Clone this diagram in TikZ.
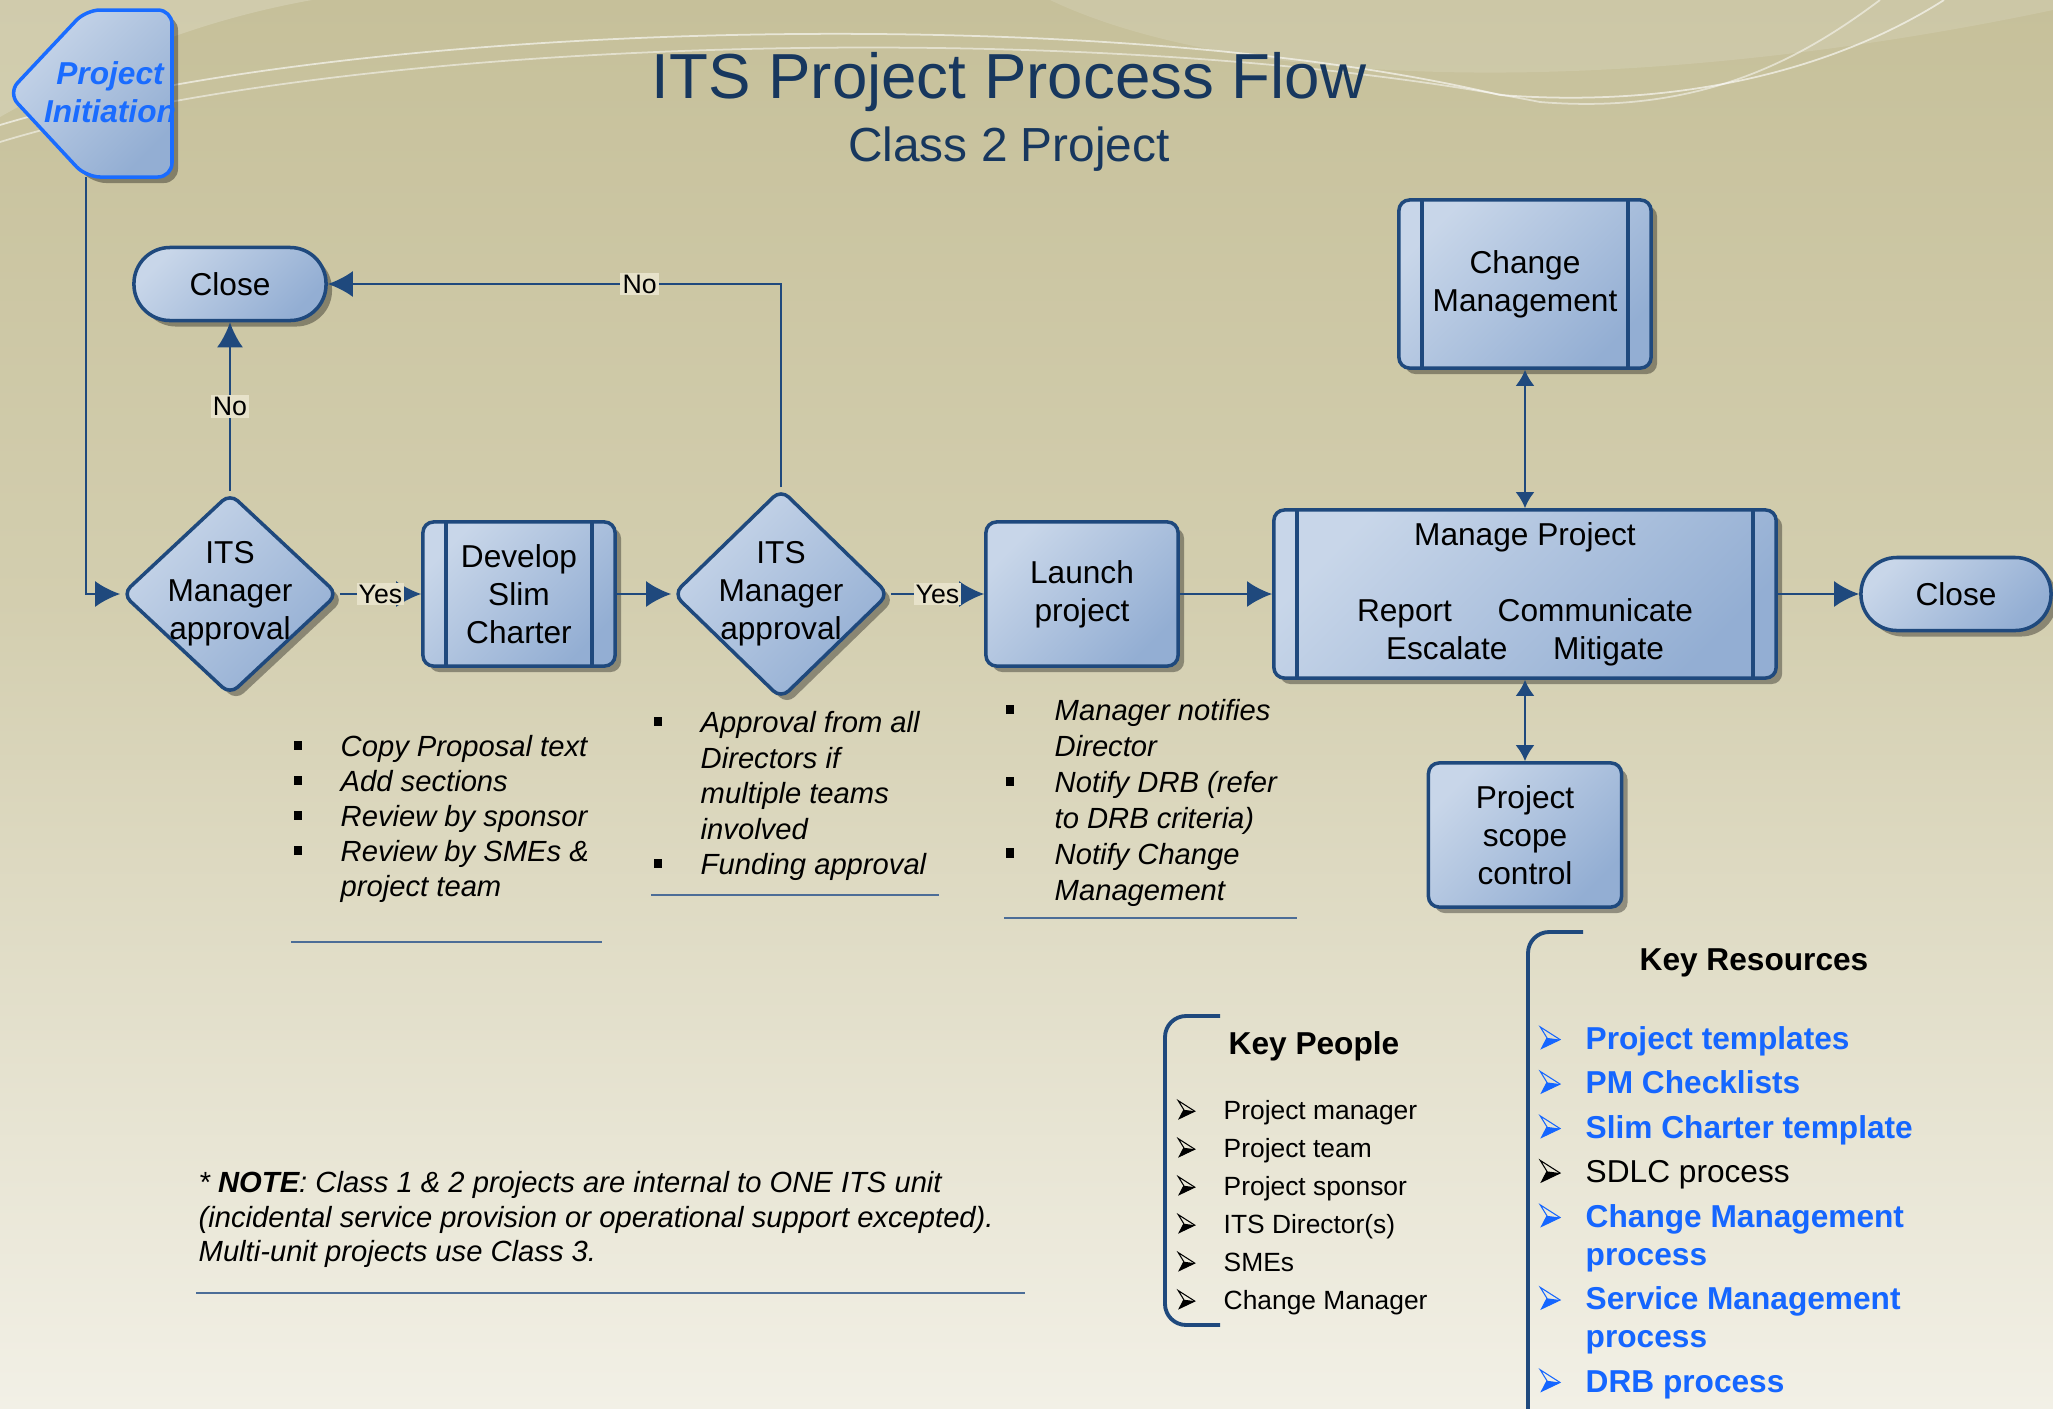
\documentclass[tikz,border=0pt]{standalone}
\usepackage{fontspec}
\setmainfont{Liberation Sans}
\usetikzlibrary{shapes.geometric,arrows.meta,shadows}

\definecolor{navy}{HTML}{1F497D}
\definecolor{boxlight}{HTML}{C8D6E9}
\definecolor{boxdark}{HTML}{93AED3}
\definecolor{titleblue}{HTML}{17375E}
\definecolor{linkblue}{HTML}{1566FF}
\definecolor{initblue}{HTML}{1A6CFF}
\definecolor{bgtop}{HTML}{C6C09A}
\definecolor{bgmid}{HTML}{D3CEAF}
\definecolor{bgbot}{HTML}{F2F0E6}
\definecolor{labelbg}{HTML}{E7E2CA}

\newcommand\nodefont{\fontsize{9}{10.8}\selectfont}
\newcommand\sqbul{\rule[1.9pt]{2.4pt}{2.6pt}}
% arrowhead bullet: #1 colour, #2 size
\newcommand\arrbul[2]{\leavevmode\tikz[baseline=0pt,x=#2pt,y=#2pt,line width=0.3pt]{%
    \draw[#1] (0,5.3) -- (4.7,2.3) -- (0.3,0.2) -- (1.6,2.7) -- cycle;
    \fill[#1] (1.6,2.7) -- (4.7,2.3) -- (0.3,0.2) -- cycle;}}

\begin{document}
\begin{tikzpicture}[x=0.01cm,y=-0.01cm,>={Latex[length=2.5mm,width=2.6mm]},
    box/.style={draw=navy,line width=1pt,rounded corners=3pt,
        top color=boxlight,bottom color=boxdark,shading angle=45,
        align=center,font=\nodefont,inner sep=2pt,
        drop shadow={shadow xshift=0.06cm,shadow yshift=-0.06cm,fill=black,opacity=0.35}},
    subproc/.style={box,path picture={
        \draw[navy,line width=1pt]
        ([xshift=0.23cm]path picture bounding box.north west) --
        ([xshift=0.23cm]path picture bounding box.south west)
        ([xshift=-0.23cm]path picture bounding box.north east) --
        ([xshift=-0.23cm]path picture bounding box.south east);}},
    term/.style={box,rounded corners=0.36cm,minimum width=1.92cm,minimum height=0.73cm},
    decision/.style={box,diamond,inner sep=0pt,rounded corners=3pt,minimum width=2.16cm},
    link/.style={->,draw=navy,line width=0.7pt},
    dlink/.style={link,{Latex[length=1.6mm,width=1.9mm]}-{Latex[length=1.6mm,width=1.9mm]}},
    lbl/.style={fill=labelbg,inner sep=0.6pt,font=\fontsize{7.6}{9}\selectfont},
    sepline/.style={draw=navy!80,line width=0.6pt},
    bracket/.style={draw=navy,line width=1.1pt,rounded corners=6pt}]

    % background
    \useasboundingbox (0,0) rectangle (2053,1408);
    \fill[top color=bgtop,bottom color=bgmid] (0,0) rectangle (2053,600);
    \fill[top color=bgmid,bottom color=bgbot] (0,600) rectangle (2053,1408);
    \fill[white,opacity=0.18] (0,0) -- (0,117) .. controls (100,60) and (200,20) .. (312,0) -- cycle;
    \fill[white,opacity=0.12] (1050,0) .. controls (1250,95) and (1650,95) .. (2053,10) -- (2053,0) -- cycle;
    \draw[white,opacity=0.6,line width=0.5pt] (0,125) .. controls (350,20) and (1100,0) .. (1500,95)
        .. controls (1700,110) and (1850,60) .. (1944,0);
    \draw[white,opacity=0.5,line width=0.5pt] (0,142) .. controls (350,35) and (1100,15) .. (1540,102)
        .. controls (1700,115) and (1800,60) .. (1880,0);

    % title
    \node[text=titleblue,font=\fontsize{18.1}{22}\selectfont] (title) at (1009,82) {ITS Project Process Flow};
    \node[text=titleblue,font=\fontsize{13.6}{16}\selectfont] (subtitle) at (1009,149) {Class 2 Project};

    % project initiation
    \shade[draw=initblue,line width=1pt,rounded corners=4pt,top color=boxlight,bottom color=boxdark,
        shading angle=45,drop shadow={shadow xshift=0.06cm,shadow yshift=-0.06cm,fill=black,opacity=0.35}]
        (130,10) -- (172,10) -- (172,177) -- (86,177) -- (8,93) -- (86,10) -- cycle;
    \node[text=initblue,font=\nodefont\bfseries\itshape,align=center] (init) at (110,92) {Project\\Initiation};
    \coordinate (initfoot) at (86,177);

    % flow
    \node[decision,minimum height=2.02cm,label={[align=center,font=\nodefont]center:ITS\\Manager\\approval}] (appr1) at (230,594) {};
    \node[term] (close1) at (230,284) {Close};
    \node[subproc,minimum width=1.92cm,minimum height=1.44cm] (charter) at (519,594) {Develop\\Slim\\Charter};
    \node[decision,minimum height=2.1cm,label={[align=center,font=\nodefont]center:ITS\\Manager\\approval}] (appr2) at (781,594) {};
    \node[box,minimum width=1.92cm,minimum height=1.44cm] (launch) at (1082,594) {Launch\\project};
    \node[subproc,minimum width=5.02cm,minimum height=1.68cm] (manage) at (1525,594)
        {Manage Project\\[10.8pt]Report\hspace{13pt}Communicate\\Escalate\hspace{13pt}Mitigate};
    \node[subproc,minimum width=2.52cm,minimum height=1.68cm] (change) at (1525,284) {Change\\Management};
    \node[box,minimum width=1.93cm,minimum height=1.44cm] (scope) at (1525,835) {Project\\scope\\control};
    \node[term,minimum width=1.90cm] (close2) at (1956,594) {Close};

    \draw[link] (initfoot) |- (appr1.west);
    \draw[link] (appr1.north) -- node[lbl]{No} (close1.south);
    \draw[link] (appr1.east) -- node[lbl]{Yes} (charter.west);
    \draw[link] (charter.east) -- (appr2.west);
    \draw[link] (appr2.north) |- node[lbl,pos=0.656]{No} (close1.east);
    \draw[link] (appr2.east) -- node[lbl]{Yes} (launch.west);
    \draw[link] (launch.east) -- (manage.west);
    \draw[link] (manage.east) -- (close2.west);
    \draw[dlink] (change.south) -- (manage.north);
    \draw[dlink] (manage.south) -- (scope.north);

    % notes under the steps
    \node[anchor=north west,inner sep=0pt,font=\fontsize{8.3}{10}\selectfont\itshape] (charternotes) at (293,731)
        {\begin{tabular}{@{}p{0.47cm}@{}l@{}}
        \sqbul & Copy Proposal text\\
        \sqbul & Add sections\\
        \sqbul & Review by sponsor\\
        \sqbul & Review by SMEs \&\\
               & project team
        \end{tabular}};
    \node[anchor=north west,inner sep=0pt,font=\fontsize{8.3}{10.1}\selectfont\itshape] (approvalnotes) at (653,707)
        {\begin{tabular}{@{}p{0.47cm}@{}l@{}}
        \sqbul & Approval from all\\
               & Directors if\\
               & multiple teams\\
               & involved\\
        \sqbul & Funding approval
        \end{tabular}};
    \node[anchor=north west,inner sep=0pt,font=\fontsize{8.3}{10.2}\selectfont\itshape] (launchnotes) at (1005,695)
        {\begin{tabular}{@{}p{0.49cm}@{}l@{}}
        \sqbul & Manager notifies\\
               & Director\\
        \sqbul & Notify DRB (refer\\
               & to DRB criteria)\\
        \sqbul & Notify Change\\
               & Management
        \end{tabular}};
    \draw[sepline] (291,942) -- (602,942);
    \draw[sepline] (651,895) -- (939,895);
    \draw[sepline] (1004,918) -- (1297,918);

    % key people
    \draw[bracket] (1220,1016) -- (1165,1016) -- (1165,1325) -- (1220,1325);
    \node[font=\fontsize{9}{11}\selectfont\bfseries] (peoplehead) at (1314,1046) {Key People};
    \node[anchor=north west,inner sep=0pt,font=\fontsize{7.5}{10.8}\selectfont] (people) at (1177,1092)
        {\begin{tabular}{@{}p{0.46cm}@{}l@{}}
        \arrbul{black}{1} & Project manager\\
        \arrbul{black}{1} & Project team\\
        \arrbul{black}{1} & Project sponsor\\
        \arrbul{black}{1} & ITS Director(s)\\
        \arrbul{black}{1} & SMEs\\
        \arrbul{black}{1} & Change Manager
        \end{tabular}};

    % key resources
    \draw[bracket] (1583,932) -- (1528,932) -- (1528,1430);
    \node[font=\fontsize{9}{11}\selectfont\bfseries] (reshead) at (1754,963) {Key Resources};
    \node[anchor=north west,inner sep=0pt,text=linkblue,font=\fontsize{9}{10.8}\selectfont\bfseries] (resources) at (1539,1022)
        {\begin{tabular}{@{}p{0.46cm}@{}l@{}}
        \arrbul{linkblue}{1.2} & Project templates\\[1.85pt]
        \arrbul{linkblue}{1.2} & PM Checklists\\[1.85pt]
        \arrbul{linkblue}{1.2} & Slim Charter template\\[1.85pt]
        \arrbul{black}{1.2} & \color{black}\mdseries SDLC process\\[1.85pt]
        \arrbul{linkblue}{1.2} & Change Management\\
                & process\\[1.85pt]
        \arrbul{linkblue}{1.2} & Service Management\\
                & process\\[1.85pt]
        \arrbul{linkblue}{1.2} & DRB process
        \end{tabular}};

    % note
    \node[anchor=north west,inner sep=0pt,font=\fontsize{8.3}{9.8}\selectfont\itshape] (note) at (198,1168)
        {\begin{tabular}{@{}l@{}}
        * \textbf{NOTE}: Class 1 \& 2 projects are internal to ONE ITS unit\\
        (incidental service provision or operational support excepted).\\
        Multi-unit projects use Class 3.
        \end{tabular}};
    \draw[sepline] (196,1293) -- (1025,1293);

\end{tikzpicture}
\end{document}
